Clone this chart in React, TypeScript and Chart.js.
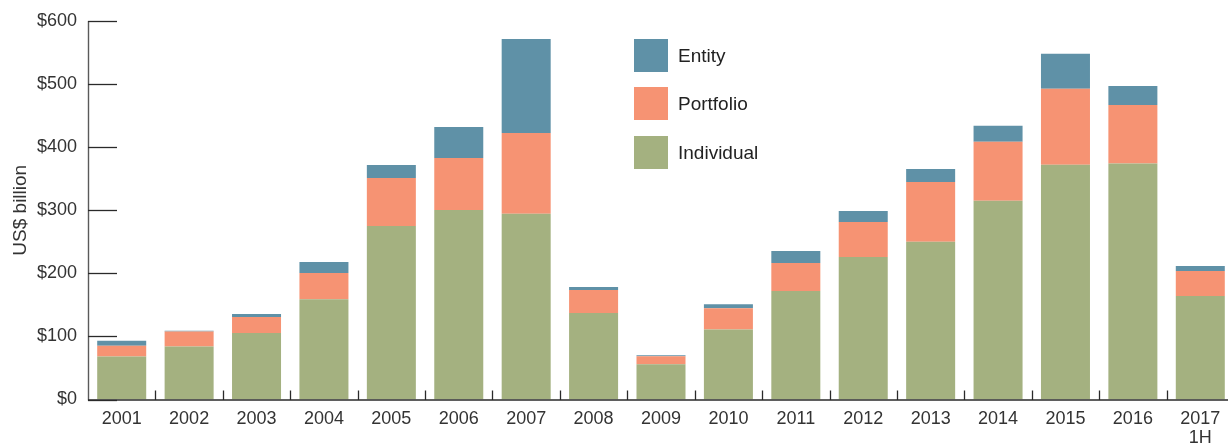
import React, { useEffect, useRef } from "react";
import { Chart, registerables } from "chart.js";

Chart.register(...registerables);

const categories: (string | string[])[] = [
  "2001", "2002", "2003", "2004", "2005", "2006", "2007", "2008", "2009",
  "2010", "2011", "2012", "2013", "2014", "2015", "2016", ["2017", "1H"],
];
const individual = [68, 84, 105.5, 159, 275, 300.5, 294.5, 137, 56, 111, 172, 226, 250, 315, 372, 374, 164];
const portfolio = [17.4, 23.6, 25.3, 41.5, 76.3, 82.5, 128, 36.5, 12.7, 33.7, 44.5, 55.4, 94.7, 93.5, 120.5, 93, 39.7];
const entity = [7.6, 1.4, 4.8, 17.4, 20.6, 49, 149, 4.7, 1.6, 6.4, 19, 17.5, 20.6, 25.4, 55.5, 30.1, 7.9];
const yTicks = [0, 100, 200, 300, 400, 500, 600];

const COLORS = {
  entity: "rgb(95,145,167)",
  portfolio: "rgb(246,147,115)",
  individual: "rgb(164,177,128)",
};

const FONT = "'Liberation Sans', Arial, sans-serif";

const axisDecor = {
  id: "axisDecor",
  afterDatasetsDraw(chart: any) {
    const { ctx, chartArea, scales } = chart;
    const y = scales.y;
    const x = scales.x;
    ctx.save();
    // y axis line
    ctx.strokeStyle = "#5a5a5a";
    ctx.lineWidth = 1.4;
    ctx.beginPath();
    ctx.moveTo(chartArea.left + 0.5, chartArea.top);
    ctx.lineTo(chartArea.left + 0.5, chartArea.bottom + 1);
    ctx.stroke();
    // x axis line
    ctx.strokeStyle = "#2a2a2a";
    ctx.beginPath();
    ctx.moveTo(chartArea.left, chartArea.bottom + 0.5);
    ctx.lineTo(chartArea.right, chartArea.bottom + 0.5);
    ctx.stroke();
    // inward y ticks
    ctx.strokeStyle = "#2a2a2a";
    ctx.lineWidth = 1.3;
    y.ticks.forEach((_t: any, i: number) => {
      const py = Math.round(y.getPixelForTick(i)) + 0.5;
      ctx.beginPath();
      ctx.moveTo(chartArea.left, py);
      ctx.lineTo(chartArea.left + 29, py);
      ctx.stroke();
    });
    // category separators
    for (let i = 1; i < x.ticks.length; i++) {
      const px = Math.round((x.getPixelForTick(i - 1) + x.getPixelForTick(i)) / 2) + 0.5;
      ctx.beginPath();
      ctx.moveTo(px, chartArea.bottom - 9);
      ctx.lineTo(px, chartArea.bottom + 0.5);
      ctx.stroke();
    }
    ctx.restore();
  },
};

const legendItems = [
  { label: "Entity", color: COLORS.entity, top: 39 },
  { label: "Portfolio", color: COLORS.portfolio, top: 87 },
  { label: "Individual", color: COLORS.individual, top: 136 },
];

export default function App() {
  const ref = useRef<HTMLCanvasElement | null>(null);

  useEffect(() => {
    if (!ref.current) return;
    const chart = new Chart(ref.current, {
      type: "bar",
      data: {
        labels: categories,
        datasets: [
          { label: "Individual", data: individual, backgroundColor: COLORS.individual, borderWidth: 0 },
          { label: "Portfolio", data: portfolio, backgroundColor: COLORS.portfolio, borderWidth: 0 },
          { label: "Entity", data: entity, backgroundColor: COLORS.entity, borderWidth: 0 },
        ],
      },
      options: {
        animation: false,
        responsive: true,
        maintainAspectRatio: false,
        layout: { padding: { top: 21, left: 0, right: 0, bottom: 0 } },
        datasets: { bar: { categoryPercentage: 1, barPercentage: 0.727 } },
        plugins: { legend: { display: false }, tooltip: { enabled: false } },
        scales: {
          x: {
            stacked: true,
            grid: { display: false, drawTicks: false },
            border: { display: false },
            ticks: {
              color: "#333",
              padding: 10,
              maxRotation: 0,
              autoSkip: false,
              font: { family: FONT, size: 18, lineHeight: 1.06 },
            },
            afterFit: (s: any) => { s.height = 47.5; },
          },
          y: {
            stacked: true,
            min: 0,
            max: 600,
            afterBuildTicks: (s: any) => { s.ticks = yTicks.map((v) => ({ value: v })); },
            grid: { display: false, drawTicks: false },
            border: { display: false },
            ticks: {
              color: "#333",
              padding: 11,
              font: { family: FONT, size: 18, lineHeight: 1 },
              callback: (v: any) => "$" + v,
            },
            title: {
              display: true,
              text: "US$ billion",
              color: "#333",
              padding: { top: 9, bottom: 0 },
              font: { family: FONT, size: 19, lineHeight: 1.2 },
            },
            afterFit: (s: any) => { s.width = 88; },
          },
        },
      },
      plugins: [axisDecor],
    });
    return () => chart.destroy();
  }, []);

  return (
    <div style={{ position: "fixed", left: 0, top: 0, width: 1228, height: 447, overflow: "hidden", background: "#fff" }}>
      <div style={{ position: "absolute", left: 0, top: 0, width: 1234, height: 447 }}>
        <canvas ref={ref} />
      </div>
      {legendItems.map((it) => (
        <div key={it.label} style={{ position: "absolute", left: 634, top: it.top, height: 33, display: "flex", alignItems: "center" }}>
          <div style={{ width: 34, height: 33, background: it.color }} />
          <span style={{ marginLeft: 10, fontFamily: FONT, fontSize: 19, color: "#222", lineHeight: "33px" }}>
            {it.label}
          </span>
        </div>
      ))}
    </div>
  );
}
